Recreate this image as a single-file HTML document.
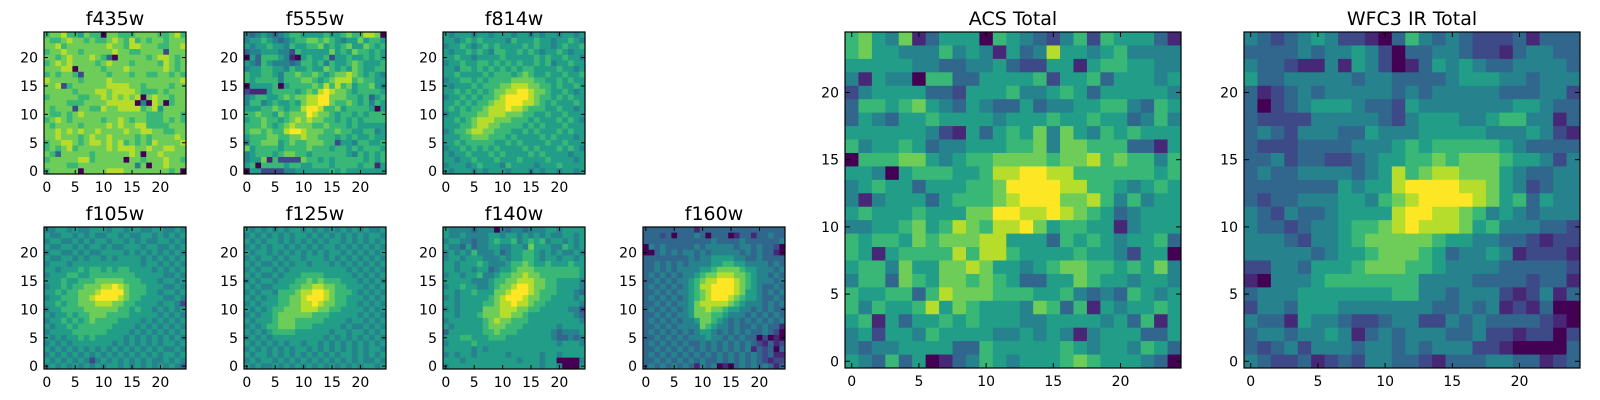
<!DOCTYPE html>
<html><head><meta charset="utf-8"><style>
html,body{margin:0;padding:0;background:#fff;width:1600px;height:400px;overflow:hidden}
svg{position:absolute;left:0;top:0}
text{font-family:"DejaVu Sans","Liberation Sans",sans-serif;fill:#000}
</style></head><body>
<svg id="fig" width="1600" height="400" xmlns="http://www.w3.org/2000/svg"></svg>
<script>
const panelTitles=["f435w","f555w","f814w","f105w","f125w","f140w","f160w","ACS Total","WFC3 IR Total"];
const tickValues=[0,5,10,15,20];
const f435w=["6778665766077666777766786","7667877676678768676776777","7786777777787768877766778","6778776777778776677772777","7767877787630777776788767","6787877776787776777768767","7778807777677787777778767","6767762777767776776677676","8777776777787777777777778","7782677777788887767777677","7777767778878888766676777","6777776677878787807877677","7777666777788888040870677","7677727766877888867857777","7667678777777777776667776","6787677777677876776667676","7677776777787877886666777","7787878778777787788776677","7787776787787777676777787","6778876788787867676877778","6767867777787888778778877","7637777767777778707787777","6777778867777707767778776","7777667777777777470778777","6777770777788877777777670"];
const f555w=["4345434566555565567668870","4556543456677676545575665","5455655465566756567557656","3445554426555557565766565","0536665410565562556556565","5436544434665646556765556","4556655465565576565765566","6556654667667656778765654","6566664666776567888676655","0555560566667686867566754","2111566665676898776566665","4566556767788997776656356","4664565565788997667656465","5556676566899866756666505","6676657677798776566565666","5667665678787766565656666","6667656787776676665655555","6776766899877766766556645","5666776677877666565655655","4667775676677766255466556","7566665666676665665656665","4566656776656666665465656","4557162222766565666665656","5606666566556665666656615","0552222445555556565555555"];
const f814w=["5455545545554554545545545","5545656555546555655455654","4556545656555565655456556","5455656546655656545565455","5565545555655555656556554","4556556656565655656455655","5546656565656566555565545","5565555656665676556556556","4556656566667777665565655","5455565666778887766565565","5565656567788998776556545","4556565667899998766565655","5565656678899988765655565","5656566788898876665565545","4556667788877766556556555","5565678887776665655565654","5556678877666656565556555","4566788776665565655565655","5556677766656555565655545","5565666665565655556556555","4556565656555565655565654","5455655565655556565555455","5545565556555655556555545","4555456555465555455565555","5455545455545554545545545"];
const f105w=["4455454455545545544554454","5445545454455454455454545","4554454545545545454455454","5445545455454455545544545","4554454544555545454545454","5445545455454555545454545","4555455555555555545545454","5545556566565665555454545","4555665566666666555554454","5556556667777766655545545","4556566777889876665554454","5565667778999976665545545","4556667789999876655554454","5565667778887766555545542","4556666777777665655454545","5455656677766665555545454","4556565676666555545454545","5455656666665555454545454","4555566666655554545454545","5454556565555545454545454","4545455555554545454545545","5454545454545454545454454","4545454545454545454545545","5454545424545454545445454","4545454545455454545454543"];
const f125w=["5454545455454545454545445","4545454545545454545454554","5454554545454545545454545","4545455454545455454545454","5455454545454545545454545","4545545455455545454545454","5454454545545554545454545","4545545455555555554545454","5454454555666655555454545","4545545556676766655545454","5454455566778877665554545","4545546667889987666545454","5454556677899987665554545","4545556677889877665545454","5454566777888776655554545","4545567777776665555545454","5455567776666655554554545","4545667776665555545445454","5454566665555554554554545","4545455555555545454545454","5454545455455454545454545","4545454545545454545454554","5455454545454545455454545","4545545454545454545454454","5454454545454545454545545"];
const f140w=["5444434440434434445545555","5445444455455454545445545","4554434456556456564554545","5443534455445547555446545","4545464445345566545454454","4554555444545566545545545","5545556544456676556555655","5545545534556777666666665","4554556445667787766666665","5555544456677888776655554","4556554456778998776655554","5545565557789998766655543","4545555567899987766555545","5545555667889887665555554","4545555777888776655555442","5545556777887765555555543","4555555678776665555555554","5455555677766655555545555","3555555667666555555434445","5556655566655555555433434","4555565555555555555545554","5555545455555555555555555","4545545555545555545545555","5554555555555455545500004","4555555555555555545540005"];
const f160w=["3333333331333333333333333","3332303334303330133133433","3333333333334333343333334","0434333334344444344343320","0034343443434444434343310","3333333343445555443343333","3343434344445566554444343","3343434444556777765544434","3434343445677888776544343","3343434456788999876544434","3434343456889999876543343","3343434456789999875543434","3434343456789998765543343","3343434457888887654443434","3434343457787765544343433","3343434457776654443434343","3434343445776543434343434","3343434444765443433434331","3434343434554343434334320","3343434344454434343302010","3434343433434343434321312","3343434343434343434132303","3434343434343434343432311","3343434343433434343432122","3434343431434010343434313"];
const acsTotal=["6754713555065432462655531","6755444645415348554564444","5555544334453225515665544","4154406633555562556355545","2455553325556445653555554","3665675435433534455664365","3543556555545556556553464","5555554215356574754656555","6455653445556674776663315","0666775456677776778676646","5540566655688998866666656","4565535556679999886654565","4145553566678999778646455","5655565557799889876534555","4455675687688975665514555","6566576777885553656545563","6515666686886555565542550","5664755778755456776656574","4663765776765335576554554","6556636877766655643436545","6465568576555476361545565","5615355656555445555453615","4525546555544545414555335","4344555533655555654554653","5436350134654555676555430"];
const wfc3Total=["4323454221036434322231333","3333434454203344322134433","4332114154201354543344443","5334444434433334555443444","3123434444434344444333442","3023455543325444444455433","3222244444324555445664413","3432444335444555554445421","3222333344456566666543333","3342332234556676777655424","3433444434586788777543344","3333333545589999887542344","3233444554678999987563544","4324334555589988764543444","4332344566789888756444332","4443244567777765544332122","4444434556777653445412221","2244355567776654444333332","1044456666666444433332331","3444555555566443444212413","2443555444444433434121300","4331544322344224343333210","3443445413434443342212202","3234244434434344422100003","4322312324433213334433123"];
const panelData=[f435w,f555w,f814w,f105w,f125w,f140w,f160w,acsTotal,wfc3Total];
const layout=[[44,32,142],[244,32,142],[443,32,142],[44,227,142],[244,227,142],[443,227,142],[643,227,142],[845,32,336],[1244,32,336]];
const vir=["#440154","#482475","#414487","#355f8d","#2a788e","#21918c","#22a884","#44bf70","#7ad151","#bddf26","#fde725"];
function hx(c){return [1,3,5].map(i=>parseInt(c.substr(i,2),16));}
function viridis(t){t=Math.max(0,Math.min(1,t));const p=t*10,i=Math.min(9,Math.floor(p)),f=p-i;const a=hx(vir[i]),b=hx(vir[i+1]);return "rgb("+a.map((v,k)=>Math.round(v+(b[k]-v)*f)).join(",")+")";}
const NS="http://www.w3.org/2000/svg";
const fig=document.getElementById("fig");
function mk(tag,attrs,parent){const e=document.createElementNS(NS,tag);for(const k in attrs)e.setAttribute(k,attrs[k]);parent.appendChild(e);return e;}
panelData.forEach((rows,pi)=>{
  const [x0,y0,w]=layout[pi];const n=25;const cs=w/n;
  const big=w>200;
  const g=mk("g",{},fig);
  
  
  const xs=v=>x0+(v+0.5)*cs;
  const ys=v=>y0+(n-0.5-v)*cs;
  rows.forEach((row,ri)=>{
    const yv=n-1-ri;
    for(let c=0;c<n;c++){
      const d=parseInt(row[c]||"5",10);
      const r=mk("rect",{x:(xs(c)-cs/2).toFixed(2),y:(ys(yv)-cs/2).toFixed(2),width:(cs+0.4).toFixed(2),height:(cs+0.4).toFixed(2),fill:viridis(d/9)},g);
      
      
    }
  });
  const fr=mk("rect",{x:x0,y:y0,width:w,height:w,fill:"none",stroke:"#000","stroke-width":1.2},g);
  
  
  const tl=big?5:4;
  tickValues.forEach(v=>{
    const X=xs(v),Y=ys(v);
    mk("line",{x1:X,y1:y0+w,x2:X,y2:y0+w-tl,stroke:"#000"},g);
    mk("line",{x1:X,y1:y0,x2:X,y2:y0+tl,stroke:"#000"},g);
    mk("line",{x1:x0,y1:Y,x2:x0+tl,y2:Y,stroke:"#000"},g);
    mk("line",{x1:x0+w,y1:Y,x2:x0+w-tl,y2:Y,stroke:"#000"},g);
    const tx=mk("text",{x:X,y:y0+w+18,"text-anchor":"middle","font-size":"14px"},g);
    tx.textContent=v;
    
    
    const ty=mk("text",{x:x0-6,y:Y+5,"text-anchor":"end","font-size":"14px"},g);
    ty.textContent=v;
    
    
  });
  const t=mk("text",{x:x0+w/2,y:y0-7,"text-anchor":"middle","font-size":"19px"},g);
  t.textContent=panelTitles[pi];
  
  
});
</script>
</body></html>
